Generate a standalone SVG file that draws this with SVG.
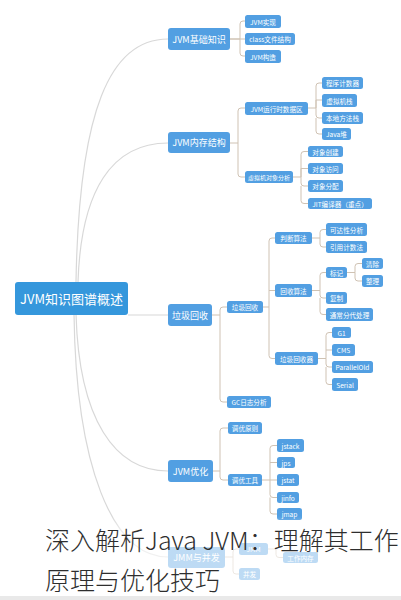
<svg xmlns="http://www.w3.org/2000/svg" width="401" height="600" viewBox="0 0 401 600">
<defs>
<style>
.n rect{fill:#529fe2;}
.root rect{fill:#3597dc;}
.t{fill:#ffffff;font-family:"Noto Sans CJK SC","Noto Sans",sans-serif;text-anchor:middle;dominant-baseline:central;}
.f13{font-size:13px;}
.f9{font-size:9px;}
.f7{font-size:6.6px;}
.f6{font-size:6px;}
.main{fill:none;stroke:#d8d8d8;stroke-width:1.2;}
.br{fill:none;stroke:#cfc2b3;stroke-width:1;}
.cap{fill:#2e2e2e;font-family:"Noto Sans CJK SC","Noto Sans",sans-serif;font-weight:300;font-size:25px;}
</style>
<linearGradient id="fade" x1="0" y1="0" x2="0" y2="1">
<stop offset="0" stop-color="#ffffff" stop-opacity="0"/>
<stop offset="0.22" stop-color="#ffffff" stop-opacity="0.62"/>
<stop offset="1" stop-color="#ffffff" stop-opacity="0.62"/>
</linearGradient>
</defs>
<rect x="0" y="0" width="401" height="600" fill="#ffffff"/>
<g id="connectors">
<path class="main" d="M76,282 C79,110 110,39 168,39"/>
<path class="main" d="M78,282 C81,190 112,143 168,143"/>
<path class="main" d="M128,315 H168"/>
<path class="main" d="M76,314 C79,420 115,471 168,471"/>
<path class="main" d="M74,314 C76,465 112,557 168,557"/>
<path class="br" d="M230,39 H240 V24 Q240,21 243,21 H245 M230,39 H245 M240,39 V53 Q240,56 243,56 H245"/>
<path class="br" d="M230,143 H238 V111 Q238,108 241,108 H245 M238,143 V174 Q238,177 241,177 H245"/>
<path class="br" d="M308,108 H316 V86 Q316,83 319,83 H322 M316,100 H322 M316,108 V115 Q316,118 319,118 H322 M316,118 V131 Q316,134 319,134 H322 M316,100 V108"/>
<path class="br" d="M293,177 H301 V154.5 Q301,151.5 304,151.5 H308 M301,168.5 H308 M301,177 V183 Q301,186 304,186 H308 M301,186 V200.5 Q301,203.5 304,203.5 H308 M301,168.5 V177"/>
<path class="br" d="M212,315 H220 V310 Q220,307 223,307 H227 M220,315 V399 Q220,402 223,402 H227"/>
<path class="br" d="M263,307 H269 V241 Q269,238 272,238 H275 M269,290.5 H275 M269,307 V355.5 Q269,358.5 272,358.5 H275"/>
<path class="br" d="M312,238 H320 V232.5 Q320,229.5 323,229.5 H326 M320,238 V244 Q320,247 323,247 H326"/>
<path class="br" d="M312,290.5 H320 V275.5 Q320,272.5 323,272.5 H326 M320,290.5 V295 Q320,298 323,298 H326 M320,298 V311.5 Q320,314.5 323,314.5 H326"/>
<path class="br" d="M347,272.5 H355 V266.5 Q355,263.5 358,263.5 H362 M355,272.5 V278 Q355,281 358,281 H362"/>
<path class="br" d="M318,358.5 H326 V335.5 Q326,332.5 329,332.5 H332 M326,350 H332 M326,358.5 V364 Q326,367 329,367 H332 M326,367 V381.5 Q326,384.5 329,384.5 H332"/>
<path class="br" d="M213,471 H220 V431 Q220,428 223,428 H228 M220,471 V477 Q220,480 223,480 H228"/>
<path class="br" d="M262,480 H270 V448.5 Q270,445.5 273,445.5 H277 M270,462.5 H277 M270,480 H277 M270,480 V494.5 Q270,497.5 273,497.5 H277 M270,497.5 V511 Q270,514 273,514 H277"/>
<path class="br" d="M225,557 H233 V552 Q233,549 236,549 H239 M233,557 V571 Q233,574 236,574 H239"/>
<path class="br" d="M268,549 H276 V554.5 Q276,557.5 279,557.5 H283"/>
</g>
<g id="root" class="root"><rect x="15" y="282" width="113" height="33" rx="3"/><text class="t f13" x="71.5" y="298.5">JVM知识图谱概述</text></g>
<g id="n-jvm-basic" class="n"><rect x="168" y="28" width="62" height="22" rx="3"/><text class="t f9" x="199" y="39">JVM基础知识</text></g>
<g id="n-jvm-mem" class="n"><rect x="168" y="132" width="62" height="21" rx="3"/><text class="t f9" x="199" y="142.5">JVM内存结构</text></g>
<g id="n-gc" class="n"><rect x="168" y="304" width="44" height="22" rx="3"/><text class="t f9" x="190" y="315">垃圾回收</text></g>
<g id="n-opt" class="n"><rect x="168" y="460" width="45" height="22" rx="3"/><text class="t f9" x="190.5" y="471">JVM优化</text></g>
<g id="n-jmm" class="n"><rect x="168" y="547" width="57" height="21" rx="3"/><text class="t f9" x="196.5" y="557.5">JMM与并发</text></g>
<g id="n-impl" class="n"><rect x="245" y="15" width="36" height="13" rx="2.5"/><text class="t f7" x="263" y="21.5">JVM实现</text></g>
<g id="n-class" class="n"><rect x="245" y="33" width="50" height="12" rx="2.5"/><text class="t f7" x="270" y="39">class文件结构</text></g>
<g id="n-struct" class="n"><rect x="245" y="50" width="36" height="13" rx="2.5"/><text class="t f7" x="263" y="56.5">JVM构造</text></g>
<g id="n-runtime" class="n"><rect x="245" y="102" width="63" height="13" rx="2.5"/><text class="t f7" x="276.5" y="108.5">JVM运行时数据区</text></g>
<g id="n-obj" class="n"><rect x="245" y="171" width="48" height="12" rx="2.5"/><text class="t f6" x="269" y="177">虚拟机对象分析</text></g>
<g id="n-pc" class="n"><rect x="322" y="77" width="41" height="12" rx="2.5"/><text class="t f7" x="342.5" y="83">程序计数器</text></g>
<g id="n-vmstack" class="n"><rect x="322" y="94" width="35" height="13" rx="2.5"/><text class="t f7" x="339.5" y="100.5">虚拟机栈</text></g>
<g id="n-native" class="n"><rect x="322" y="112" width="41" height="12" rx="2.5"/><text class="t f7" x="342.5" y="118">本地方法栈</text></g>
<g id="n-heap" class="n"><rect x="322" y="128" width="29" height="12" rx="2.5"/><text class="t f7" x="336.5" y="134">Java堆</text></g>
<g id="n-create" class="n"><rect x="308" y="146" width="35" height="11" rx="2.5"/><text class="t f7" x="325.5" y="151.5">对象创建</text></g>
<g id="n-access" class="n"><rect x="308" y="163" width="35" height="11" rx="2.5"/><text class="t f7" x="325.5" y="168.5">对象访问</text></g>
<g id="n-alloc" class="n"><rect x="308" y="180" width="35" height="12" rx="2.5"/><text class="t f7" x="325.5" y="186">对象分配</text></g>
<g id="n-jit" class="n"><rect x="308" y="198" width="64" height="11" rx="2.5"/><text class="t f7" x="340" y="203.5">JIT编译器（重点）</text></g>
<g id="n-gc2" class="n"><rect x="227" y="301" width="36" height="12" rx="2.5"/><text class="t f7" x="245" y="307">垃圾回收</text></g>
<g id="n-judge" class="n"><rect x="275" y="232" width="37" height="12" rx="2.5"/><text class="t f7" x="293.5" y="238">判断算法</text></g>
<g id="n-reach" class="n"><rect x="326" y="223" width="41" height="13" rx="2.5"/><text class="t f7" x="346.5" y="229.5">可达性分析</text></g>
<g id="n-refc" class="n"><rect x="326" y="241" width="41" height="12" rx="2.5"/><text class="t f7" x="346.5" y="247">引用计数法</text></g>
<g id="n-algo" class="n"><rect x="275" y="284" width="37" height="13" rx="2.5"/><text class="t f7" x="293.5" y="290.5">回收算法</text></g>
<g id="n-mark" class="n"><rect x="326" y="267" width="21" height="11" rx="2.5"/><text class="t f7" x="336.5" y="272.5">标记</text></g>
<g id="n-sweep" class="n"><rect x="362" y="258" width="21" height="11" rx="2.5"/><text class="t f7" x="372.5" y="263.5">清除</text></g>
<g id="n-compact" class="n"><rect x="362" y="275" width="21" height="12" rx="2.5"/><text class="t f7" x="372.5" y="281">整理</text></g>
<g id="n-copy" class="n"><rect x="326" y="292" width="21" height="12" rx="2.5"/><text class="t f7" x="336.5" y="298">复制</text></g>
<g id="n-gen" class="n"><rect x="326" y="308" width="47" height="13" rx="2.5"/><text class="t f7" x="349.5" y="314.5">通常分代处理</text></g>
<g id="n-collector" class="n"><rect x="275" y="352" width="43" height="13" rx="2.5"/><text class="t f7" x="296.5" y="358.5">垃圾回收器</text></g>
<g id="n-g1" class="n"><rect x="332" y="327" width="19" height="11" rx="2.5"/><text class="t f7" x="341.5" y="332.5">G1</text></g>
<g id="n-cms" class="n"><rect x="332" y="344" width="23" height="12" rx="2.5"/><text class="t f7" x="343.5" y="350">CMS</text></g>
<g id="n-po" class="n"><rect x="332" y="361" width="41" height="12" rx="2.5"/><text class="t f7" x="352.5" y="367">ParallelOld</text></g>
<g id="n-serial" class="n"><rect x="332" y="378" width="26" height="13" rx="2.5"/><text class="t f7" x="345" y="384.5">Serial</text></g>
<g id="n-gclog" class="n"><rect x="227" y="396" width="44" height="12" rx="2.5"/><text class="t f7" x="249" y="402">GC日志分析</text></g>
<g id="n-principle" class="n"><rect x="228" y="422" width="34" height="12" rx="2.5"/><text class="t f7" x="245" y="428">调优原则</text></g>
<g id="n-tools" class="n"><rect x="228" y="474" width="34" height="12" rx="2.5"/><text class="t f7" x="245" y="480">调优工具</text></g>
<g id="n-jstack" class="n"><rect x="277" y="439" width="27" height="13" rx="2.5"/><text class="t f7" x="290.5" y="445.5">jstack</text></g>
<g id="n-jps" class="n"><rect x="277" y="457" width="18" height="11" rx="2.5"/><text class="t f7" x="286" y="462.5">jps</text></g>
<g id="n-jstat" class="n"><rect x="277" y="474" width="22" height="12" rx="2.5"/><text class="t f7" x="288" y="480">jstat</text></g>
<g id="n-jinfo" class="n"><rect x="277" y="492" width="22" height="11" rx="2.5"/><text class="t f7" x="288" y="497.5">jinfo</text></g>
<g id="n-jmap" class="n"><rect x="277" y="508" width="25" height="12" rx="2.5"/><text class="t f7" x="289.5" y="514">jmap</text></g>
<g id="n-jmm2" class="n"><rect x="239" y="543" width="29" height="12" rx="2.5"/><text class="t f7" x="253.5" y="549">JMM</text></g>
<g id="n-conc" class="n"><rect x="239" y="568" width="21" height="12" rx="2.5"/><text class="t f7" x="249.5" y="574">并发</text></g>
<g id="n-workmem" class="n"><rect x="283" y="552" width="35" height="11" rx="2.5"/><text class="t f7" x="300.5" y="557.5">工作内存</text></g>
<rect x="0" y="516" width="401" height="84" fill="url(#fade)"/>
<rect x="0" y="596" width="401" height="4" fill="#e9e9e9"/>
<g id="caption">
<text class="cap" x="45" y="550">深入解析Java JVM：理解其工作</text>
<text class="cap" x="45" y="590">原理与优化技巧</text>
</g>
</svg>
